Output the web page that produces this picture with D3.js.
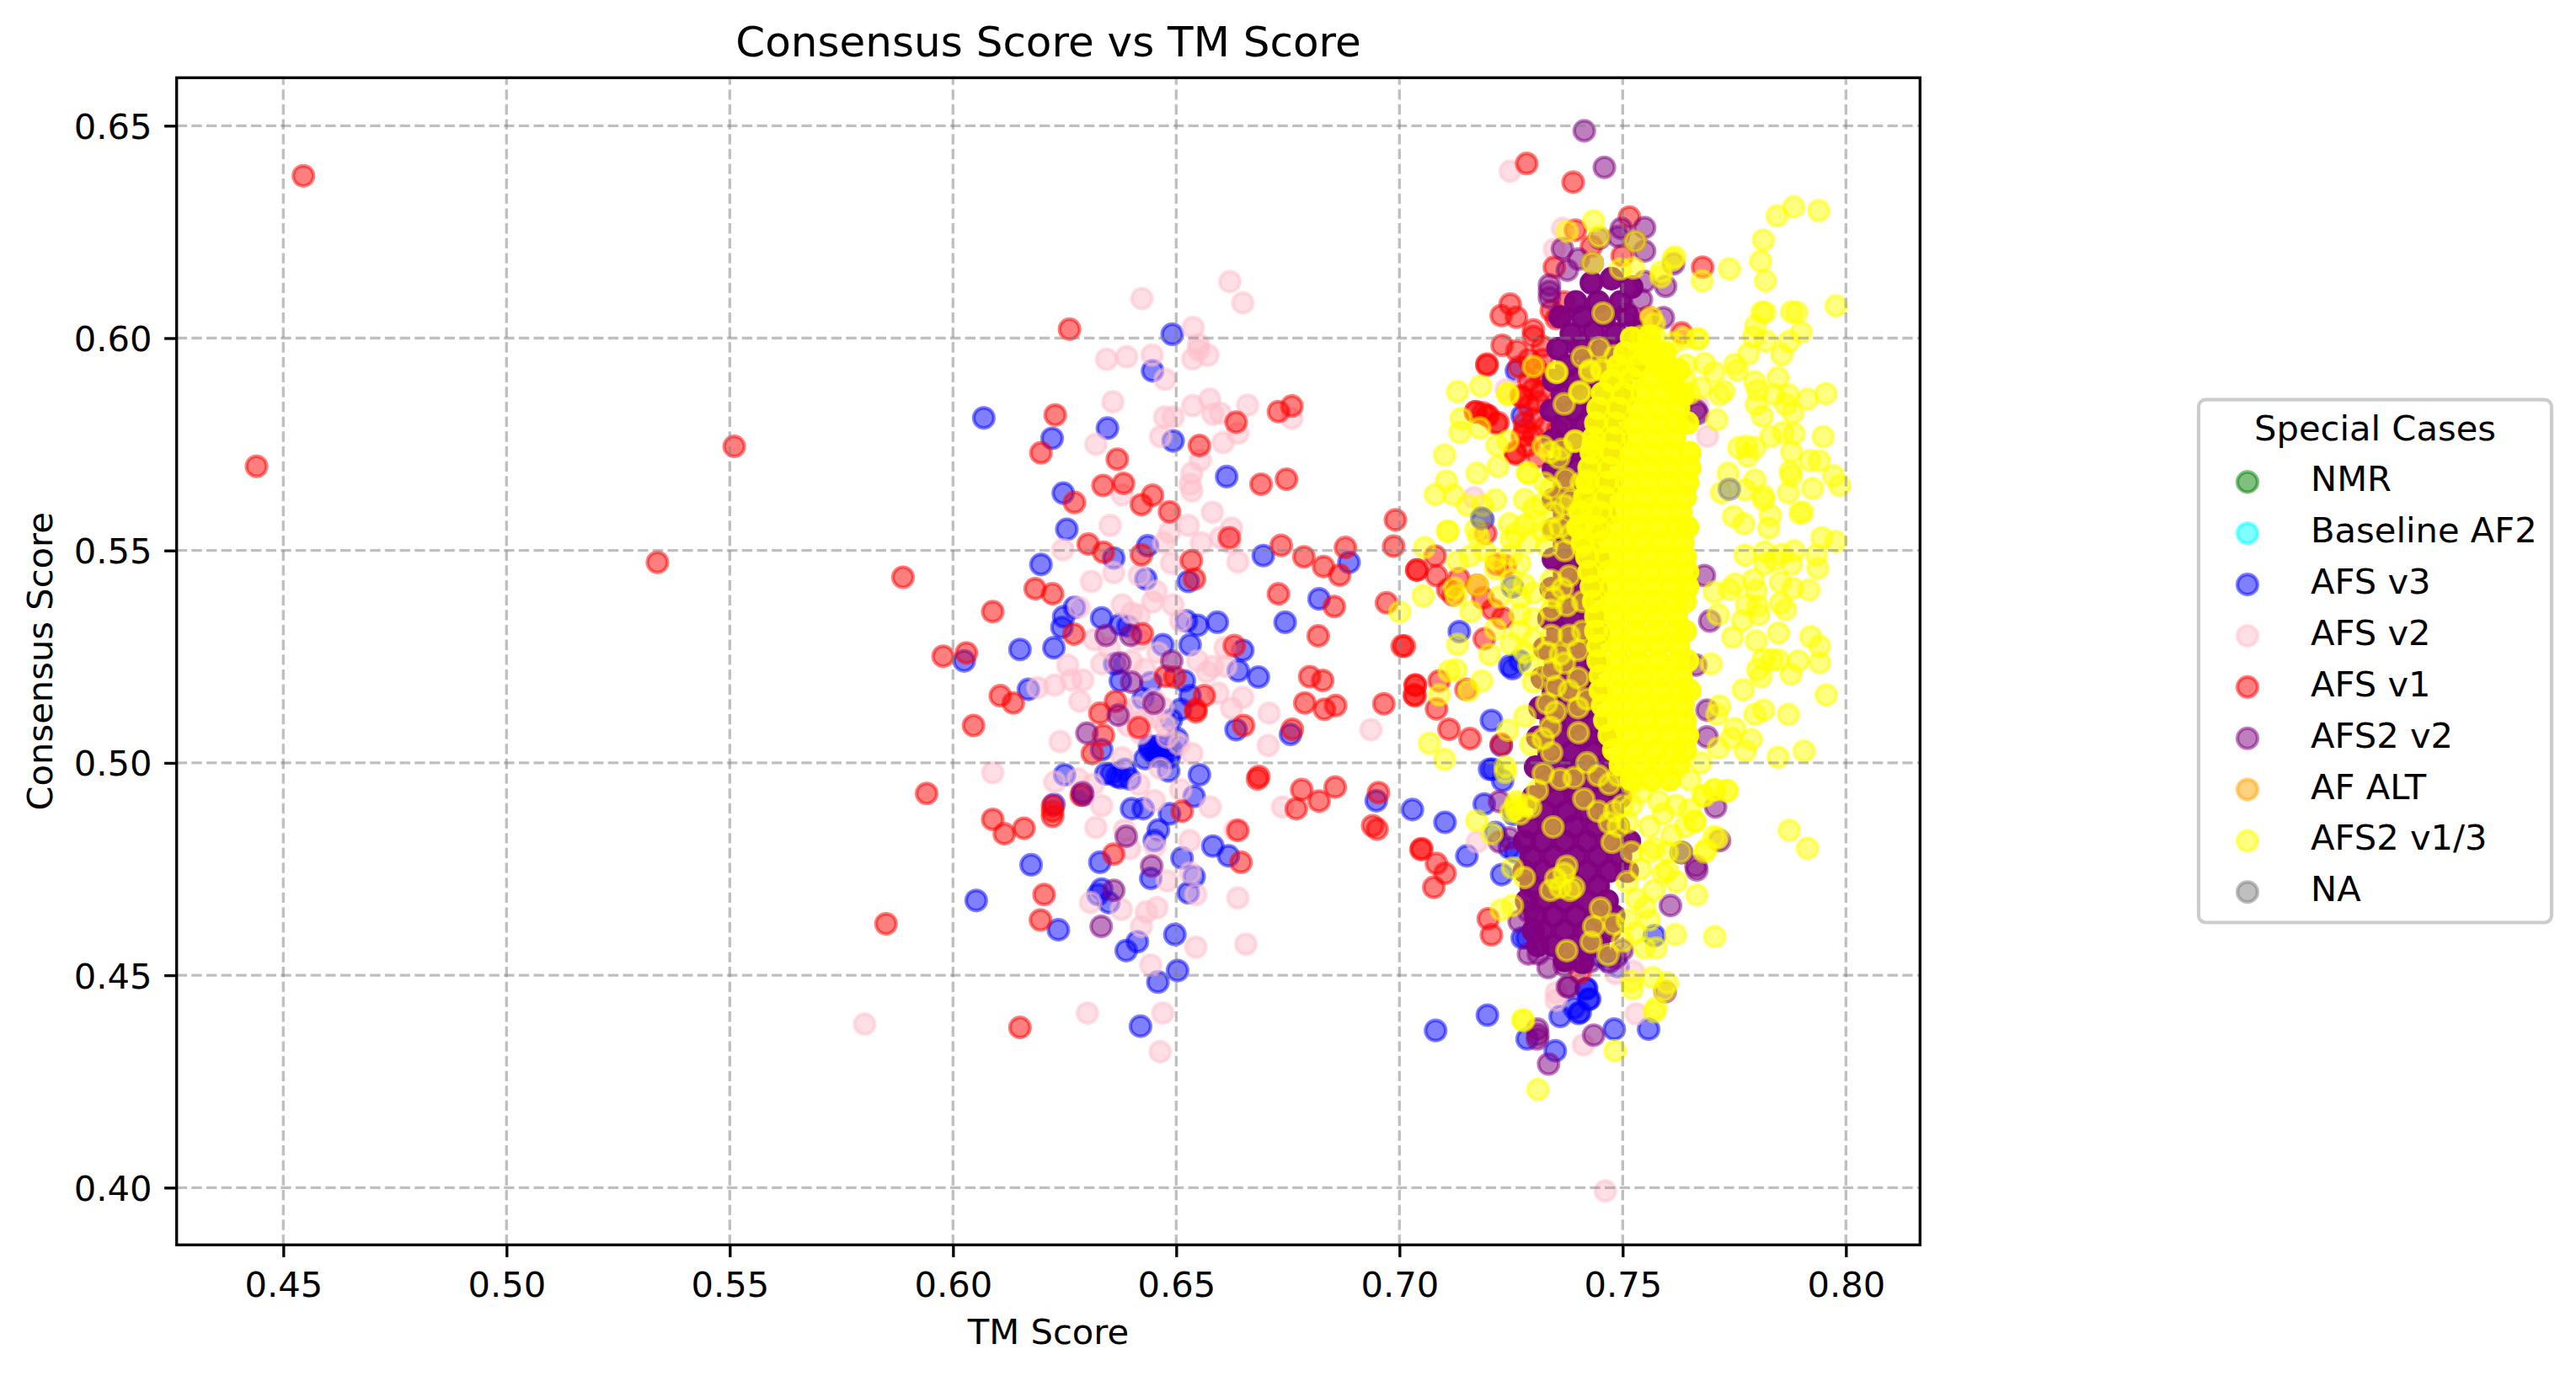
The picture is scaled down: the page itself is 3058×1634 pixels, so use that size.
<!DOCTYPE html>
<html><head><meta charset="utf-8">
<script src="https://cdn.jsdelivr.net/npm/d3@7"></script>
<style>html,body{margin:0;background:#fff}svg{display:block}text{font-family:"DejaVu Sans";fill:#000}</style>
</head><body><div id="c"></div>
<script>
const xTicks=[.45,.5,.55,.6,.65,.7,.75,.8];
const yTicks=[.4,.45,.5,.55,.6,.65];
const nmr=[];
const baseline=[];
const afAlt=[];
const na=[[.7739,.5644],[.7184,.5576]];
const afs3=[[.6491,.6009],[.6447,.5923],[.6069,.5812],[.6222,.5764],[.6346,.5788],[.6493,.5758],[.6613,.5674],[.6247,.5635],[.6255,.5550],[.6436,.5511],[.6360,.5482],[.6197,.5467],[.6695,.5488],[.6887,.5472],[.6432,.5433],[.6527,.5427],[.6820,.5386],[.6744,.5331],[.6272,.5366],[.6248,.5344],[.6244,.5319],[.6333,.5341],[.6375,.5326],[.6392,.5322],[.6523,.5334],[.6548,.5324],[.6592,.5331],[.6150,.5267],[.6226,.5271],[.6025,.5240],[.6470,.5278],[.6531,.5278],[.6649,.5265],[.6639,.5217],[.6684,.5202],[.6362,.5233],[.6375,.5193],[.6443,.5189],[.6518,.5193],[.6169,.5173],[.6531,.5158],[.6426,.5151],[.6510,.5126],[.6489,.5101],[.6634,.5078],[.6756,.5067],[.6333,.5031],[.6442,.5031],[.6459,.5025],[.6502,.5057],[.6484,.5012],[.6430,.5010],[.6440,.5040],[.6450,.5030],[.6460,.5040],[.6470,.5020],[.6480,.5040],[.6490,.5030],[.6455,.5015],[.6355,.4975],[.6375,.4965],[.6385,.4985],[.6250,.4972],[.6342,.4974],[.6367,.4968],[.6396,.4962],[.6483,.4981],[.6552,.4972],[.6540,.4921],[.6226,.4902],[.6291,.4924],[.6948,.4911],[.7029,.4890],[.6400,.4892],[.6426,.4892],[.6485,.4880],[.6451,.4817],[.6460,.4842],[.6582,.4804],[.6617,.4781],[.6513,.4776],[.6329,.4766],[.6175,.4760],[.6443,.4728],[.6540,.4732],[.6527,.4694],[.6052,.4676],[.6333,.4703],[.6325,.4690],[.6349,.4671],[.6236,.4607],[.6497,.4596],[.6413,.4579],[.6388,.4558],[.6503,.4511],[.6459,.4484],[.6420,.4380],[.7081,.4370],[.7102,.4860],[.7151,.4781],[.7190,.4903],[.7197,.4406],[.7229,.4737],[.7215,.4836],[.7209,.4985],[.7202,.4985],[.7231,.4958],[.7228,.5041],[.7206,.5100],[.7275,.4588],[.7285,.4588],[.7256,.4879],[.7246,.4800],[.7260,.4790],[.7360,.4403],[.7419,.4469],[.7423,.4443],[.7401,.4410],[.7391,.4423],[.7481,.4373],[.7286,.4350],[.7349,.4322],[.7405,.4413],[.7558,.4373],[.7571,.4593],[.7418,.4468],[.7426,.4444],[.7631,.4789],[.7134,.5309],[.7247,.5228],[.7262,.5923],[.7275,.5817],[.7187,.5573],[.7253,.5414],[.7253,.5222],[.7270,.5240],[.7450,.4545],[.7470,.4530],[.7490,.4520],[.7420,.4560]];
const afs2v=[[.6620,.6133],[.6423,.6093],[.6649,.6083],[.6538,.6025],[.6446,.5960],[.6344,.5950],[.6389,.5956],[.6537,.5951],[.6550,.5985],[.6550,.5972],[.6571,.5960],[.6475,.5903],[.6358,.5850],[.6537,.5841],[.6474,.5814],[.6493,.5814],[.6575,.5856],[.6599,.5823],[.6582,.5821],[.6660,.5842],[.6759,.5811],[.6465,.5768],[.6638,.5776],[.6605,.5754],[.6320,.5750],[.6554,.5713],[.6535,.5682],[.6531,.5656],[.6535,.5640],[.6379,.5631],[.6581,.5590],[.6352,.5559],[.6527,.5559],[.6485,.5543],[.6624,.5553],[.6599,.5530],[.6620,.5518],[.6556,.5518],[.6472,.5518],[.6246,.5502],[.6489,.5470],[.6638,.5473],[.6360,.5448],[.6310,.5427],[.6417,.5442],[.6455,.5404],[.6379,.5372],[.6493,.5372],[.6417,.5347],[.6447,.5379],[.6400,.5353],[.6510,.5334],[.6282,.5366],[.6316,.5290],[.6333,.5233],[.6418,.5290],[.6459,.5259],[.6257,.5230],[.6228,.5183],[.6190,.5177],[.6265,.5195],[.6291,.5195],[.6284,.5145],[.6548,.5240],[.6569,.5214],[.6609,.5271],[.6582,.5227],[.6611,.5227],[.6594,.5164],[.6649,.5154],[.6624,.5128],[.6708,.5117],[.6706,.5041],[.6936,.5078],[.6240,.5050],[.6089,.4977],[.6379,.5012],[.6535,.5022],[.6426,.5101],[.6451,.5107],[.6476,.5088],[.6392,.5088],[.6506,.5044],[.6464,.4987],[.6228,.4955],[.6280,.4962],[.6314,.4949],[.6417,.4949],[.6510,.4937],[.6333,.4899],[.6451,.4911],[.6576,.4896],[.6738,.4896],[.6320,.4848],[.6384,.4842],[.6530,.4817],[.6632,.4842],[.6396,.4798],[.6452,.4804],[.6480,.4722],[.6531,.4741],[.6544,.4690],[.6638,.4682],[.6308,.4671],[.6377,.4655],[.6433,.4649],[.6457,.4659],[.6422,.4615],[.6544,.4566],[.6656,.4573],[.6443,.4524],[.6301,.4411],[.6470,.4411],[.5802,.4385],[.6464,.4320],[.6400,.5240],[.6430,.5220],[.6350,.5270],[.6450,.5150],[.6410,.5130],[.6470,.5130],[.6380,.5120],[.6420,.5070],[.6480,.5060],[.7248,.6393],[.7365,.6258],[.7347,.6209],[.7239,.5879],[.7275,.5882],[.7669,.5841],[.7167,.5624],[.7690,.5769],[.7351,.4459],[.7351,.4441],[.7412,.4336],[.7530,.4409],[.7461,.3992],[.7174,.4814],[.7524,.4509],[.7484,.4504]];
const afs1=[[.4440,.5698],[.4545,.6382],[.5338,.5472],[.5510,.5745],[.6261,.6021],[.6229,.5819],[.6759,.5840],[.6729,.5827],[.6634,.5802],[.6552,.5747],[.6197,.5730],[.6368,.5715],[.6336,.5653],[.6382,.5658],[.6447,.5630],[.6422,.5608],[.6485,.5591],[.6272,.5613],[.6690,.5656],[.6747,.5668],[.6991,.5572],[.6619,.5530],[.6735,.5512],[.6303,.5515],[.6337,.5496],[.6422,.5490],[.6786,.5485],[.6830,.5462],[.6879,.5507],[.6866,.5442],[.6987,.5510],[.6534,.5476],[.5888,.5437],[.6541,.5433],[.6184,.5410],[.6223,.5398],[.6729,.5398],[.6854,.5368],[.6089,.5356],[.6971,.5377],[.7039,.5454],[.6271,.5303],[.6424,.5304],[.6818,.5299],[.7006,.5275],[.5978,.5251],[.6030,.5259],[.6630,.5276],[.6476,.5204],[.6497,.5202],[.6799,.5203],[.6828,.5194],[.7035,.5183],[.7035,.5158],[.6106,.5158],[.6135,.5141],[.6563,.5158],[.6544,.5126],[.6544,.5120],[.6364,.5145],[.6329,.5117],[.6788,.5141],[.6832,.5126],[.6857,.5135],[.6965,.5139],[.6046,.5088],[.6416,.5083],[.6651,.5088],[.6760,.5079],[.6337,.5065],[.6312,.5022],[.6685,.4968],[.6682,.4962],[.5941,.4928],[.6781,.4937],[.6856,.4943],[.6820,.4910],[.6769,.4892],[.6953,.4930],[.6287,.4924],[.6223,.4886],[.6223,.4874],[.6223,.4899],[.6089,.4867],[.6115,.4833],[.6159,.4846],[.6513,.4886],[.6638,.4841],[.6940,.4852],[.6950,.4844],[.7050,.4798],[.6360,.4785],[.6645,.4766],[.6204,.4690],[.6196,.4630],[.5850,.4621],[.6150,.4377],[.7111,.5079],[.7158,.5057],[.7083,.5127],[.7048,.4796],[.7083,.4763],[.7102,.4740],[.7077,.4707],[.7199,.4633],[.7206,.4595],[.7404,.4506],[.7228,.5044],[.7196,.5936],[.7171,.5827],[.7187,.5824],[.7199,.5817],[.7221,.5801],[.7272,.5864],[.7259,.5731],[.7281,.5784],[.7080,.5487],[.7039,.5454],[.7083,.5441],[.7193,.5540],[.7108,.5408],[.7120,.5395],[.7133,.5434],[.7174,.5418],[.7218,.5467],[.7237,.5464],[.7209,.5361],[.7187,.5388],[.7231,.5341],[.7011,.5275],[.7036,.5183],[.7033,.5160],[.7089,.5193],[.7149,.5173],[.7190,.5292],[.7285,.6411],[.7389,.6367],[.7515,.6285],[.7394,.6254],[.7679,.6167],[.7347,.6167],[.7430,.6216],[.7499,.6194],[.7248,.6080],[.7228,.6053],[.7262,.6049],[.7300,.6019],[.7300,.6004],[.7340,.6065],[.7351,.6046],[.7230,.5983],[.7263,.5970],[.7196,.5939],[.7268,.5932],[.7632,.6012],[.7557,.6050],[.7369,.6085],[.7318,.5913],[.7318,.5875],[.7275,.5860],[.7170,.5826],[.7196,.5818],[.7217,.5799],[.7326,.5791],[.7354,.5784],[.7261,.5727],[.7275,.5769],[.7290,.5900],[.7300,.5880],[.7310,.5850],[.7290,.5840],[.7300,.5810],[.7280,.5800],[.7300,.5770],[.7285,.5745],[.7310,.5720],[.7320,.5950],[.7320,.5980],[.7290,.5950],[.7305,.5930]];
const afs2b=[[.7414,.6488],[.7459,.6402],[.7549,.6260],[.7497,.6258],[.7490,.6239],[.7549,.6205],[.7365,.6210],[.7448,.6235],[.7528,.6228],[.7401,.6186],[.7376,.6160],[.7432,.6177],[.7614,.6175],[.7336,.6125],[.7336,.6110],[.7336,.6095],[.7596,.6122],[.7549,.6133],[.7542,.6091],[.7591,.6048],[.7517,.6034],[.7668,.5822],[.7664,.5830],[.7695,.5334],[.7689,.5061],[.7708,.4896],[.7717,.4817],[.7632,.4789],[.7664,.4757],[.7664,.5230],[.7683,.5441],[.7689,.5124],[.7666,.4748],[.7607,.4664],[.7595,.4461],[.7435,.4359],[.7334,.4291],[.7309,.4373],[.7309,.4350],[.7310,.4360],[.7376,.4473],[.7268,.4627],[.7289,.4650],[.7289,.4550],[.7311,.4550],[.7333,.4518],[.7369,.4523],[.7246,.4823],[.7224,.4909],[.7224,.4814],[.7380,.4473],[.7484,.4541],[.7499,.4559],[.7470,.4532],[.7427,.4532],[.6398,.5300],[.6343,.5300],[.6374,.5235],[.6400,.5190],[.6490,.5240],[.6450,.5140],[.6370,.5112],[.6388,.4827],[.6445,.4757],[.6332,.4615],[.6360,.4700],[.6290,.4930],[.6300,.5070]];
const afs2bDense=[[.7430,.6130],[.7475,.6140],[.7520,.6120],[.7395,.6085],[.7445,.6085],[.7495,.6085],[.7360,.6050],[.7410,.6050],[.7460,.6050],[.7510,.6055],[.7385,.6010],[.7435,.6015],[.7485,.6010],[.7535,.6015],[.7355,.5975],[.7405,.5975],[.7455,.5975],[.7505,.5975],[.7375,.5935],[.7425,.5935],[.7475,.5935],[.7525,.5930],[.7345,.5900],[.7395,.5900],[.7445,.5900],[.7495,.5900],[.7365,.5865],[.7415,.5865],[.7465,.5865],[.7505,.5865],[.7340,.5830],[.7390,.5830],[.7440,.5830],[.7490,.5830],[.7365,.5795],[.7415,.5795],[.7465,.5795],[.7345,.5760],[.7395,.5760],[.7445,.5760],[.7485,.5765],[.7370,.5725],[.7420,.5725],[.7470,.5725],[.7345,.5690],[.7395,.5690],[.7445,.5690],[.7370,.5655],[.7420,.5655],[.7470,.5655],[.7345,.5620],[.7395,.5620],[.7445,.5620],[.7370,.5585],[.7420,.5585],[.7460,.5585],[.7345,.5550],[.7395,.5550],[.7445,.5550],[.7370,.5515],[.7420,.5515],[.7345,.5480],[.7395,.5480],[.7445,.5480],[.7370,.5445],[.7420,.5445],[.7340,.5410],[.7390,.5410],[.7440,.5410],[.7360,.5375],[.7410,.5375],[.7335,.5340],[.7385,.5340],[.7435,.5340],[.7355,.5305],[.7405,.5305],[.7445,.5305],[.7325,.5270],[.7375,.5270],[.7425,.5270],[.7350,.5235],[.7400,.5235],[.7440,.5235],[.7320,.5200],[.7370,.5200],[.7420,.5200],[.7345,.5165],[.7395,.5165],[.7440,.5165],[.7315,.5130],[.7365,.5130],[.7415,.5130],[.7340,.5095],[.7390,.5095],[.7440,.5095],[.7310,.5060],[.7360,.5060],[.7410,.5060],[.7460,.5060],[.7335,.5025],[.7385,.5025],[.7435,.5025],[.7305,.4990],[.7355,.4990],[.7405,.4990],[.7455,.4990],[.7330,.4955],[.7380,.4955],[.7430,.4955],[.7480,.4955],[.7300,.4920],[.7350,.4920],[.7400,.4920],[.7450,.4920],[.7495,.4920],[.7325,.4885],[.7375,.4885],[.7425,.4885],[.7475,.4885],[.7290,.4850],[.7340,.4850],[.7390,.4850],[.7440,.4850],[.7490,.4850],[.7280,.4815],[.7320,.4815],[.7370,.4815],[.7420,.4815],[.7470,.4815],[.7515,.4815],[.7295,.4780],[.7345,.4780],[.7395,.4780],[.7445,.4780],[.7495,.4780],[.7280,.4745],[.7320,.4745],[.7370,.4745],[.7420,.4745],[.7470,.4745],[.7510,.4745],[.7295,.4710],[.7345,.4710],[.7395,.4710],[.7445,.4710],[.7285,.4675],[.7320,.4675],[.7370,.4675],[.7420,.4675],[.7465,.4675],[.7305,.4640],[.7345,.4640],[.7395,.4640],[.7445,.4640],[.7480,.4640],[.7300,.4605],[.7320,.4605],[.7370,.4605],[.7420,.4605],[.7470,.4605],[.7310,.4570],[.7345,.4570],[.7395,.4570],[.7445,.4570],[.7370,.4535],[.7410,.4530]];
const afs2a=[[.7846,.6288],[.7883,.6309],[.7939,.6300],[.7815,.6231],[.7809,.6181],[.7820,.6135],[.7739,.6163],[.7678,.6135],[.7617,.6191],[.7978,.6076],[.7812,.6061],[.7818,.6061],[.7878,.6062],[.7890,.6061],[.7900,.6014],[.7798,.6029],[.7793,.6003],[.7821,.5993],[.7873,.5992],[.7856,.5961],[.7782,.5963],[.7667,.5998],[.7684,.5940],[.7642,.5937],[.7705,.5919],[.7751,.5938],[.7757,.5924],[.7675,.5883],[.7727,.5875],[.7717,.5867],[.7848,.5907],[.7796,.5897],[.7802,.5877],[.7799,.5844],[.7813,.5816],[.7871,.5867],[.7839,.5867],[.7914,.5856],[.7955,.5869],[.7865,.5844],[.7881,.5824],[.7711,.5808],[.7949,.5768],[.7831,.5768],[.7859,.5778],[.7884,.5775],[.7760,.5742],[.7796,.5742],[.7777,.5745],[.7780,.5722],[.7878,.5732],[.7919,.5712],[.7941,.5711],[.7736,.5682],[.7796,.5666],[.7875,.5686],[.7878,.5676],[.7972,.5676],[.7986,.5653],[.7925,.5646],[.7871,.5636],[.7774,.5643],[.7815,.5629],[.7815,.5620],[.7721,.5636],[.7748,.5580],[.7831,.5583],[.7897,.5588],[.7903,.5590],[.7946,.5530],[.7771,.5563],[.7827,.5553],[.7977,.5521],[.7774,.5489],[.7818,.5497],[.7856,.5491],[.7884,.5499],[.7934,.5489],[.7937,.5458],[.7818,.5468],[.7840,.5478],[.7878,.5468],[.7793,.5431],[.7853,.5425],[.7881,.5411],[.7917,.5407],[.7752,.5421],[.7739,.5408],[.7799,.5405],[.7705,.5402],[.7714,.5349],[.7777,.5372],[.7802,.5369],[.7805,.5349],[.7853,.5376],[.7865,.5361],[.7768,.5335],[.7746,.5296],[.7849,.5306],[.7799,.5287],[.7921,.5297],[.7941,.5275],[.7941,.5236],[.7893,.5240],[.7815,.5244],[.7834,.5243],[.7849,.5242],[.7802,.5220],[.7810,.5203],[.7877,.5209],[.7698,.5233],[.7770,.5172],[.7956,.5160],[.7796,.5114],[.7816,.5124],[.7871,.5114],[.7717,.5134],[.7711,.5114],[.7751,.5081],[.7743,.5058],[.7788,.5055],[.7775,.5028],[.7714,.5035],[.7848,.5013],[.7906,.5028],[.7675,.5000],[.7651,.4959],[.7705,.4936],[.7734,.4934],[.7683,.4922],[.7662,.4861],[.7704,.4826],[.7683,.4790],[.7873,.4841],[.7914,.4799],
[.7130,.5874],[.7182,.5887],[.7243,.5867],[.7138,.5811],[.7135,.5778],[.7180,.5788],[.7218,.5748],[.7243,.5758],[.7101,.5725],[.7174,.5682],[.7221,.5698],[.7105,.5664],[.7080,.5632],[.7121,.5631],[.7152,.5606],[.7187,.5606],[.7215,.5619],[.7108,.5546],[.7108,.5545],[.7171,.5550],[.7177,.5533],[.7246,.5563],[.7250,.5527],[.7056,.5507],[.7130,.5474],[.7158,.5487],[.7190,.5500],[.7215,.5480],[.7215,.5457],[.7123,.5411],[.7127,.5394],[.7053,.5393],[.7175,.5418],[.7224,.5391],[.7160,.5356],[.7001,.5355],[.7130,.5279],[.7202,.5255],[.7215,.5315],[.7127,.5219],[.7111,.5216],[.7184,.5193],[.7089,.5160],[.7155,.5170],
[.7369,.5845],[.7404,.5874],[.7353,.5920],[.7426,.5920],[.7454,.5923],[.7393,.5758],[.7433,.5747],[.7322,.5745],[.7338,.5731],[.7357,.5718],[.7363,.5738],[.7287,.5684],[.7338,.5646],[.7325,.5659],[.7372,.5669],[.7407,.5659],[.7423,.5665],[.7369,.5606],[.7382,.5619],[.7447,.6239],[.7528,.6228],[.7432,.6177],[.7495,.6163],[.7524,.6165],[.7586,.6156],[.7586,.6144],[.7613,.6186],[.7435,.6276],[.7376,.6251],[.7456,.6059],[.7447,.5977],[.7409,.5955],[.7483,.5958],[.7427,.5924],[.7452,.5928],[.7506,.5922],[.7351,.5919],[.7404,.5871],[.7300,.5933],[.7243,.5869],[.7394,.5757],[.7434,.5747],[.7288,.5681],[.7669,.5998],[.7636,.6000],[.7571,.6034],[.7564,.6049],[.7535,.5962],[.7564,.5958],[.7593,.5958],[.7614,.5989],[.7542,.6004],[.7571,.6004],[.7600,.5920],[.7640,.5900],[.7650,.5870],[.7620,.5880],
[.7280,.5620],[.7300,.5600],[.7320,.5610],[.7345,.5590],[.7300,.5570],[.7340,.5550],[.7280,.5560],[.7320,.5545],[.7360,.5555],[.7385,.5540],[.7410,.5560],[.7440,.5540],[.7400,.5590],[.7430,.5600],[.7260,.5540],[.7290,.5520],[.7330,.5510],[.7370,.5500],[.7410,.5510],[.7250,.5490],[.7270,.5470],[.7280,.5420],[.7250,.5430],[.7270,.5390],[.7300,.5400],[.7340,.5430],[.7380,.5440],[.7345,.5390],[.7365,.5410],[.7270,.5350],[.7300,.5340],[.7340,.5360],[.7375,.5370],[.7410,.5380],[.7270,.5310],[.7300,.5290],[.7340,.5300],[.7380,.5300],[.7410,.5310],[.7250,.5280],[.7280,.5260],[.7330,.5260],[.7360,.5255],[.7400,.5265],[.7290,.5230],[.7340,.5220],[.7370,.5235],[.7400,.5200],[.7300,.5190],[.7350,.5180],[.7380,.5170],[.7420,.5150],[.7330,.5140],[.7400,.5130],[.7350,.5120],
[.7067,.5046],[.7101,.5008],[.7173,.4864],[.7207,.4833],[.7253,.4753],[.7280,.4730],[.7344,.4849],[.7375,.4757],[.7350,.4727],[.7369,.4740],[.7338,.4700],[.7360,.4707],[.7391,.4707],[.7382,.4700],[.7228,.4654],[.7253,.4664],[.7375,.4558],[.7450,.4658],[.7435,.4615],[.7429,.4578],[.7467,.4548],[.7278,.4393],[.7237,.4978],[.7237,.4991],[.7262,.4909],[.7294,.4895],[.7309,.4935],[.7322,.4975],[.7360,.4962],[.7391,.4965],[.7413,.4915],[.7445,.4886],[.7470,.4859],[.7482,.4886],[.7476,.4813],[.7341,.5024],[.7294,.5044],[.7322,.5057],[.7243,.5077],[.7281,.5110],[.7338,.5084],[.7401,.5071],[.7260,.4900],[.7250,.4885],[.7260,.4890],[.7270,.4880],[.7285,.4900],[.7420,.5000],[.7445,.4970],[.7470,.4950],[.7500,.4900],[.7490,.4850],[.7510,.4860],[.7520,.4790],[.7540,.4750],[.7510,.4720],[.7570,.4700],[.7530,.4680],[.7550,.4660],[.7590,.4740],[.7620,.4720],[.7560,.4630],[.7530,.4600],[.7500,.4580],[.7480,.4620],[.7510,.4630],
[.7310,.4231],[.7276,.4395],[.7483,.4322],[.7522,.4468],[.7520,.4486],[.7567,.4495],[.7600,.4482],[.7593,.4464],[.7575,.4423],[.7571,.4414],[.7618,.4596],[.7706,.4591],[.7575,.4564],[.7549,.4564],[.7666,.4689],[.7600,.4746],[.7687,.4796],[.7712,.4823],[.7661,.4864],[.7733,.4935],[.7705,.4937],[.7679,.4923],
[.7560,.4850],[.7590,.4880],[.7610,.4830],[.7570,.4800],[.7640,.4850],[.7520,.4900],[.7540,.4930],[.7580,.4910],[.7620,.4900],[.7650,.4890],[.7520,.4950],[.7490,.4970],[.7560,.4790],[.7600,.4790],[.7630,.4790]];
const afs2core=[[.7520,.6000],[.7560,.6005],[.7505,.5965],[.7550,.5970],[.7595,.5965],[.7490,.5935],[.7535,.5935],[.7580,.5935],[.7625,.5925],[.7475,.5900],[.7520,.5905],[.7565,.5905],[.7610,.5900],[.7455,.5870],[.7500,.5870],[.7545,.5870],[.7590,.5870],[.7635,.5865],[.7445,.5835],[.7490,.5835],[.7535,.5835],[.7580,.5835],[.7625,.5835],[.7440,.5800],[.7485,.5800],[.7530,.5800],[.7575,.5800],[.7620,.5800],[.7645,.5800],[.7435,.5765],[.7480,.5765],[.7525,.5765],[.7570,.5765],[.7615,.5765],[.7430,.5730],[.7475,.5730],[.7520,.5730],[.7565,.5730],[.7610,.5730],[.7650,.5730],[.7425,.5695],[.7470,.5695],[.7515,.5695],[.7560,.5695],[.7605,.5695],[.7650,.5695],[.7420,.5660],[.7465,.5660],[.7510,.5660],[.7555,.5660],[.7600,.5660],[.7645,.5660],[.7415,.5625],[.7460,.5625],[.7505,.5625],[.7550,.5625],[.7595,.5625],[.7640,.5625],[.7405,.5590],[.7450,.5590],[.7495,.5590],[.7540,.5590],[.7585,.5590],[.7630,.5590],[.7400,.5555],[.7445,.5555],[.7490,.5555],[.7535,.5555],[.7580,.5555],[.7625,.5555],[.7645,.5555],[.7410,.5520],[.7455,.5520],[.7500,.5520],[.7545,.5520],[.7590,.5520],[.7635,.5520],[.7420,.5485],[.7465,.5485],[.7510,.5485],[.7555,.5485],[.7600,.5485],[.7640,.5485],[.7425,.5450],[.7470,.5450],[.7515,.5450],[.7560,.5450],[.7605,.5450],[.7645,.5450],[.7430,.5415],[.7475,.5415],[.7520,.5415],[.7565,.5415],[.7610,.5415],[.7645,.5415],[.7435,.5380],[.7480,.5380],[.7525,.5380],[.7570,.5380],[.7615,.5380],[.7640,.5380],[.7440,.5345],[.7485,.5345],[.7530,.5345],[.7575,.5345],[.7620,.5345],[.7440,.5310],[.7485,.5310],[.7530,.5310],[.7575,.5310],[.7620,.5310],[.7640,.5310],[.7445,.5275],[.7490,.5275],[.7535,.5275],[.7580,.5275],[.7625,.5275],[.7445,.5240],[.7490,.5240],[.7535,.5240],[.7580,.5240],[.7625,.5240],[.7645,.5240],[.7450,.5205],[.7495,.5205],[.7540,.5205],[.7585,.5205],[.7630,.5205],[.7450,.5170],[.7495,.5170],[.7540,.5170],[.7585,.5170],[.7630,.5170],[.7650,.5170],[.7455,.5135],[.7500,.5135],[.7545,.5135],[.7590,.5135],[.7635,.5135],[.7460,.5100],[.7505,.5100],[.7550,.5100],[.7595,.5100],[.7640,.5100],[.7470,.5065],[.7515,.5065],[.7560,.5065],[.7605,.5065],[.7645,.5065],[.7480,.5030],[.7525,.5030],[.7570,.5030],[.7615,.5030],[.7640,.5030],[.7495,.4995],[.7540,.4995],[.7585,.4995],[.7625,.4995],[.7520,.4960],[.7565,.4960],[.7605,.4960]];
const W=3058,H=1634,L=209.7,R=2279.3,T=92.3,B=1478.3;
const FS=41.67;
const x=d3.scaleLinear().domain([.42611,.8166]).range([L,R]);
const y=d3.scaleLinear().domain([.38652,.6613]).range([B,T]);
const svg=d3.select("#c").append("svg").attr("width",W).attr("height",H);
const RAD=12,SW=4.17;
function dots(data,color,op=.5){
  svg.append("g").selectAll("circle").data(data).join("circle")
    .attr("cx",d=>x(d[0])).attr("cy",d=>y(d[1])).attr("r",RAD)
    .attr("fill",color).attr("fill-opacity",op)
    .attr("stroke",color).attr("stroke-opacity",op).attr("stroke-width",SW);
}
const series=[["NMR","green",nmr],["Baseline AF2","cyan",baseline],["AFS v3","blue",afs3],["AFS v2","pink",afs2v],["AFS v1","red",afs1],["AFS2 v2","purple",afs2b],["AF ALT","orange",afAlt],["AFS2 v1/3","yellow",afs2a],["NA","gray",na]];
series.forEach(s=>{
  if(s[2]===afs2a) dots(afs2bDense,"purple",.95);
  dots(s[2],s[1]);
});
const grid=svg.append("g").attr("stroke","#808080").attr("stroke-opacity",.5).attr("stroke-width",3.33).attr("stroke-dasharray","12.33 5.33");
grid.selectAll(".v").data(xTicks).join("line").attr("x1",d=>x(d)).attr("x2",d=>x(d)).attr("y1",B).attr("y2",T);
grid.selectAll(".h").data(yTicks).join("line").attr("y1",d=>y(d)).attr("y2",d=>y(d)).attr("x1",L).attr("x2",R);
dots(afs2core,"yellow",.92);
const fmt=d3.format(".2f");
const ax=svg.append("g").attr("transform",`translate(0,${B})`).call(d3.axisBottom(x).tickValues(xTicks).tickFormat(fmt).tickSize(14.6).tickPadding(17.6));
const ay=svg.append("g").attr("transform",`translate(${L},0)`).call(d3.axisLeft(y).tickValues(yTicks).tickFormat(fmt).tickSize(14.6).tickPadding(14.6));
[ax,ay].forEach(a=>{a.select(".domain").remove();a.selectAll("line").attr("stroke","#000").attr("stroke-width",3.33);
  a.selectAll("text").attr("font-family","DejaVu Sans").attr("font-size",FS).attr("fill","#000");});
ay.selectAll("text").attr("dy","0.36em");
svg.append("rect").attr("x",L).attr("y",T).attr("width",R-L).attr("height",B-T).attr("fill","none").attr("stroke","#000").attr("stroke-width",3.33);
svg.append("text").attr("x",(L+R)/2).attr("y",67.3).attr("text-anchor","middle").attr("font-size",50).text("Consensus Score vs TM Score");
svg.append("text").attr("x",(L+R)/2).attr("y",1596).attr("text-anchor","middle").attr("font-size",FS).text("TM Score");
svg.append("text").attr("transform",`translate(62,${(T+B)/2}) rotate(-90)`).attr("text-anchor","middle").attr("font-size",FS).text("Consensus Score");
const lg=svg.append("g");
lg.append("rect").attr("x",2610).attr("y",474.7).attr("width",419).attr("height",620.8).attr("rx",8.3).attr("fill","#fff").attr("fill-opacity",.8).attr("stroke","#ccc").attr("stroke-width",4.17);
lg.append("text").attr("x",2819.5).attr("y",523).attr("text-anchor","middle").attr("font-size",FS).text("Special Cases");
const rowY=d3.scaleLinear().domain([0,8]).range([572.4,1059.3]);
series.forEach((s,i)=>{
  lg.append("circle").attr("cx",2668).attr("cy",rowY(i)).attr("r",RAD).attr("fill",s[1]).attr("fill-opacity",.5).attr("stroke",s[1]).attr("stroke-opacity",.5).attr("stroke-width",SW);
  lg.append("text").attr("x",2743).attr("y",rowY(i)+11).attr("font-size",FS).text(s[0]);
});
</script></body></html>
